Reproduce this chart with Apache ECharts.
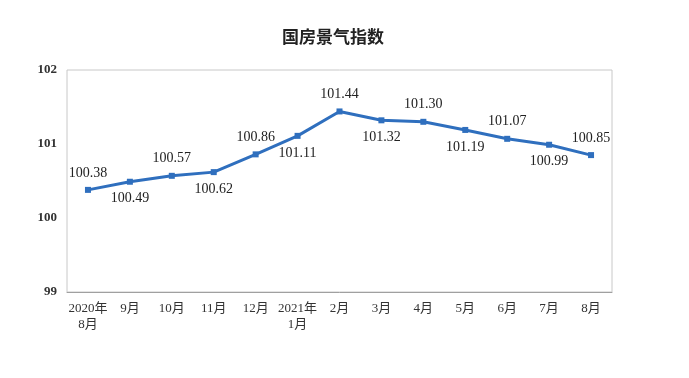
<!DOCTYPE html>
<html>
<head>
<meta charset="utf-8">
<script src="https://cdn.jsdelivr.net/npm/echarts@6/dist/echarts.min.js"></script>
<style>
html,body{margin:0;padding:0;background:#fff;}
#main{width:689px;height:378px;}
</style>
</head>
<body>
<div id="main"></div>
<script>
var months = ['2020年\n8月','9月','10月','11月','12月','2021年\n1月','2月','3月','4月','5月','6月','7月','8月'];
var indexVals = [100.38,100.49,100.57,100.62,100.86,101.11,101.44,101.32,101.30,101.19,101.07,100.99,100.85];
var labelSide = ['top','bottom','top','bottom','top','bottom','top','bottom','top','bottom','top','bottom','top'];
var yTicks = [99,100,101,102];

var serif = '"Liberation Serif","Noto Sans CJK SC",serif';

var pts = [];
for (var i = 0; i < indexVals.length; i++) {
    pts.push({
        value: indexVals[i],
        label: {position: labelSide[i]}
    });
}

var myChart = echarts.init(document.getElementById('main'));
var option = {
    backgroundColor: '#fff',
    animation: false,
    title: {
        text: '国房景气指数',
        left: 328,
        top: 23,
        textAlign: 'center',
        textStyle: {
            fontFamily: '"Noto Sans CJK SC",sans-serif',
            fontSize: 17,
            fontWeight: 'bold',
            color: '#222'
        }
    },
    grid: {
        left: 67,
        right: 77,
        top: 70,
        bottom: 86,
        show: true,
        borderColor: '#c8c8c8',
        borderWidth: 1
    },
    xAxis: {
        type: 'category',
        data: months,
        boundaryGap: true,
        axisLine: {lineStyle: {color: '#a0a0a0'}},
        axisTick: {inside: true, length: 6, lineStyle: {color: '#a0a0a0'}},
        axisLabel: {
            interval: 0,
            fontFamily: serif,
            fontSize: 13,
            color: '#333',
            margin: 9,
            lineHeight: 16
        }
    },
    yAxis: {
        type: 'value',
        min: yTicks[0],
        max: yTicks[yTicks.length - 1],
        interval: 1,
        axisLine: {show: false},
        axisTick: {show: false},
        splitLine: {show: false},
        axisLabel: {
            fontFamily: serif,
            fontSize: 13,
            fontWeight: 'bold',
            color: '#333',
            margin: 10
        }
    },
    series: [{
        type: 'line',
        data: pts,
        symbol: 'rect',
        symbolSize: 6,
        lineStyle: {color: '#2f6fbe', width: 3},
        itemStyle: {color: '#2f6fbe'},
        label: {
            show: true,
            distance: 7,
            fontFamily: serif,
            fontSize: 14,
            color: '#222',
            formatter: function (p) { return p.value.toFixed(2); }
        }
    }]
};
myChart.setOption(option, true);
</script>
</body>
</html>
